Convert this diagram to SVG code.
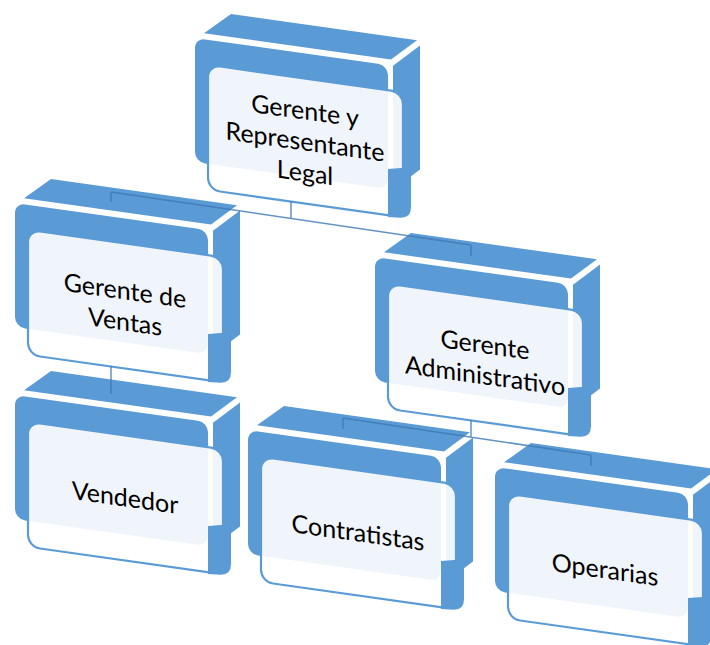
<svg xmlns="http://www.w3.org/2000/svg" width="710" height="645" viewBox="0 0 710 645">
<defs>
<style>
.face{fill:#5B9BD5;}
.panel{fill:#FFFFFF;fill-opacity:0.9;stroke:#5B9BD5;stroke-width:2.2;}
.lbl{font-family:Lato,"Open Sans","Liberation Sans",sans-serif;font-size:25px;fill:#000000;text-anchor:middle;}
.conn{fill:none;stroke:#3C78B5;stroke-opacity:0.8;stroke-width:1.5;}
</style>
<g id="cube">
  <polygon class="face" points="9,-6 36,-29 222,-29 196,-6"/>
  <rect class="face" x="0" y="0" width="193" height="124" rx="10"/>
  <polygon class="face" points="198,0 225,-24 225,100 198,124"/>
  <rect class="panel" x="13" y="25" width="195" height="125" rx="12"/>
  <path class="face" d="M193,104 L216,99 L216,139 Q216,150 205,151 L193,152 Z"/>
</g>
</defs>
<rect width="710" height="645" fill="#FFFFFF"/>

<g id="node-gerente-representante" transform="translate(195,38) skewY(8)">
  <use href="#cube"/>
  <text class="lbl" x="110" y="66">Gerente y</text>
  <text class="lbl" x="110" y="97">Representante</text>
  <text class="lbl" x="110" y="128">Legal</text>
</g>

<g id="node-gerente-ventas" transform="translate(15,203) skewY(8)">
  <use href="#cube"/>
  <text class="lbl" x="110" y="81">Gerente de</text>
  <text class="lbl" x="110" y="112">Ventas</text>
</g>

<g id="node-gerente-administrativo" transform="translate(375,257) skewY(8)">
  <use href="#cube"/>
  <text class="lbl" x="110" y="81">Gerente</text>
  <text class="lbl" x="110" y="112">Administrativo</text>
</g>

<g id="node-vendedor" transform="translate(15,395) skewY(8)">
  <use href="#cube"/>
  <text class="lbl" x="110" y="96">Vendedor</text>
</g>

<g id="node-contratistas" transform="translate(248,430) skewY(8)">
  <use href="#cube"/>
  <text class="lbl" x="110" y="96">Contratistas</text>
</g>

<g id="node-operarias" transform="translate(495,467) skewY(8)">
  <use href="#cube"/>
  <text class="lbl" x="110" y="96">Operarias</text>
</g>

<g id="connectors">
  <path class="conn" d="M291,201 V218.5 M111,192 L471,245 M111,192 V202 M471,245 V256"/>
  <path class="conn" d="M111,366 V394"/>
  <path class="conn" d="M471,420 V437 M343,418 L591,455 M343,418 V429 M591,455 V466"/>
</g>
</svg>
